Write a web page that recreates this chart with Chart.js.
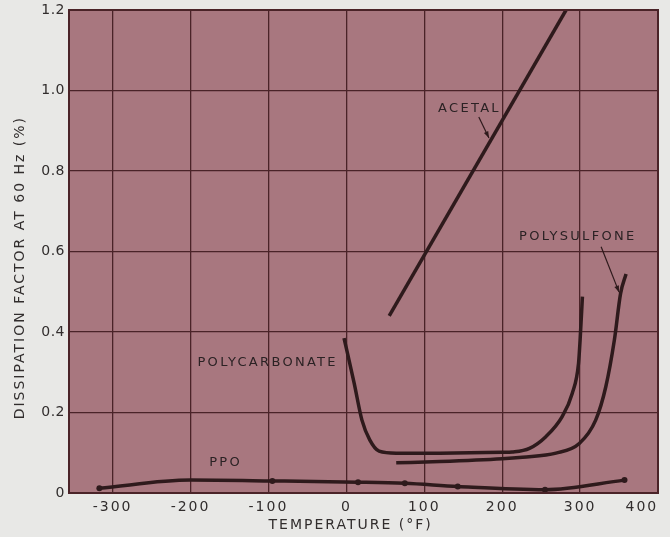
<!DOCTYPE html>
<html>
<head>
<meta charset="utf-8">
<script src="https://cdn.jsdelivr.net/npm/chart.js@4/dist/chart.umd.min.js"></script>
<style>
  html, body { margin: 0; padding: 0; background: #e8e8e6; }
  canvas { display: block; }
</style>
</head>
<body>
<canvas id="dissipationChart" width="670" height="537"></canvas>
<script>
// tick values
const xTicks = [-300, -200, -100, 0, 100, 200, 300, 400];
const yTicks = [0, 0.2, 0.4, 0.6, 0.8, 1.0, 1.2];

// curves (temperature in F, dissipation factor in %)
const acetalX = [55, 282];
const acetalY = [0.44, 1.2];

const polycarbonateX = [-3, 10, 20, 30, 42, 64, 120, 200, 213, 235, 256, 277, 290, 298, 300, 303];
const polycarbonateY = [0.385, 0.273, 0.181, 0.132, 0.104, 0.099, 0.099, 0.101, 0.102, 0.111, 0.140, 0.190, 0.248, 0.322, 0.380, 0.488];

const polysulfoneX = [64, 120, 200, 226, 269, 299, 320, 333, 344, 352, 359];
const polysulfoneY = [0.075, 0.078, 0.085, 0.089, 0.099, 0.123, 0.181, 0.264, 0.380, 0.496, 0.544];

const ppoX = [-317, -200, -95, 15, 75, 143, 255, 357];
const ppoY = [0.012, 0.032, 0.030, 0.027, 0.024, 0.016, 0.008, 0.032];
const ppoMarked = [true, false, true, true, true, true, true, true];

const plotColor = '#a8777f';
const gridColor = '#4a2328';
const curveColor = '#2e1a1c';
const textColor = '#312d2d';

function toPoints(xs, ys){
  return xs.map((x, i) => ({x: x, y: ys[i]}));
}

function curve(label, xs, ys){
  return {
    label: label,
    data: toPoints(xs, ys),
    borderColor: curveColor,
    borderWidth: 3.5,
    pointRadius: 0,
    fill: false,
    cubicInterpolationMode: 'monotone'
  };
}

// curve names and arrows, placed in data units
const curveLabels = [
  {text: 'ACETAL', x: 158, y: 0.956},
  {text: 'POLYCARBONATE', x: -101, y: 0.323},
  {text: 'PPO', x: -155, y: 0.075},
  {text: 'POLYSULFONE', x: 297, y: 0.636}
];
const arrows = [
  {from: [170, 0.934], to: [183, 0.882]},
  {from: [327, 0.612], to: [350, 0.499]}
];

// canvas resets its state on resize, so the spacing is set again before layout and draw
const letterSpacing = {
  id: 'letterSpacing',
  beforeUpdate(chart){ chart.ctx.letterSpacing = '2px'; },
  beforeDraw(chart){ chart.ctx.letterSpacing = '2px'; }
};

const plotBackground = {
  id: 'plotBackground',
  beforeDraw(chart){
    const {ctx, chartArea: a} = chart;
    ctx.save();
    ctx.fillStyle = plotColor;
    ctx.fillRect(a.left, a.top, a.right - a.left, a.bottom - a.top);
    ctx.restore();
  },
  afterDraw(chart){
    const {ctx, chartArea: a} = chart;
    ctx.save();
    ctx.strokeStyle = gridColor;
    ctx.lineWidth = 2;
    ctx.strokeRect(a.left, a.top, a.right - a.left, a.bottom - a.top);
    ctx.restore();
  }
};

const labelPlugin = {
  id: 'curveNames',
  afterDatasetsDraw(chart){
    const {ctx, scales: {x, y}} = chart;
    ctx.save();
    ctx.font = '13px "DejaVu Sans"';
    ctx.letterSpacing = '2.3px';
    ctx.fillStyle = '#2b2224';
    ctx.textAlign = 'center';
    ctx.textBaseline = 'middle';
    curveLabels.forEach(l => {
      ctx.fillText(l.text, x.getPixelForValue(l.x), y.getPixelForValue(l.y));
    });

    ctx.strokeStyle = curveColor;
    ctx.fillStyle = curveColor;
    ctx.lineWidth = 1.2;
    arrows.forEach(a => {
      const x1 = x.getPixelForValue(a.from[0]), y1 = y.getPixelForValue(a.from[1]);
      const x2 = x.getPixelForValue(a.to[0]), y2 = y.getPixelForValue(a.to[1]);
      const ang = Math.atan2(y2 - y1, x2 - x1);
      ctx.beginPath();
      ctx.moveTo(x1, y1);
      ctx.lineTo(x2, y2);
      ctx.stroke();
      ctx.beginPath();
      ctx.moveTo(x2, y2);
      ctx.lineTo(x2 - 7 * Math.cos(ang - 0.35), y2 - 7 * Math.sin(ang - 0.35));
      ctx.lineTo(x2 - 7 * Math.cos(ang + 0.35), y2 - 7 * Math.sin(ang + 0.35));
      ctx.closePath();
      ctx.fill();
    });
    ctx.restore();
  }
};

function showDissipationChart(){
  const ppo = curve('PPO', ppoX, ppoY);
  ppo.pointRadius = ppoMarked.map(m => m ? 3 : 0);
  ppo.pointBackgroundColor = curveColor;
  ppo.pointBorderWidth = 0;

  const data = {
    datasets: [
      curve('Acetal', acetalX, acetalY),
      curve('Polycarbonate', polycarbonateX, polycarbonateY),
      curve('Polysulfone', polysulfoneX, polysulfoneY),
      ppo
    ]
  };

  const tickFont = {family: '"DejaVu Sans"', size: 14};
  const titleFont = {family: '"DejaVu Sans"', size: 14};

  const options = {
    responsive: false,
    animation: false,
    layout: {
      padding: {top: 10, right: 12, left: 0, bottom: 0}
    },
    plugins: {
      legend: {display: false},
      tooltip: {enabled: false}
    },
    scales: {
      x: {
        type: 'linear',
        min: -356,
        max: 400,
        afterBuildTicks: scale => { scale.ticks = xTicks.map(v => ({value: v})); },
        afterFit: scale => {
          scale.height = 44;
          scale.paddingLeft = 0;
          scale.paddingRight = 0;
        },
        grid: {color: gridColor, lineWidth: 1.3, drawTicks: false},
        border: {color: gridColor, width: 2},
        ticks: {
          color: textColor,
          font: tickFont,
          padding: 6,
          maxRotation: 0,
          // the last label sits left of its gridline in the original
          callback: v => v === 400 ? '400     ' : String(v)
        },
        title: {
          display: true,
          text: 'TEMPERATURE (°F)    ',
          color: textColor,
          font: titleFont,
          padding: {top: 0, bottom: 3}
        }
      },
      y: {
        min: 0,
        max: 1.2,
        afterBuildTicks: scale => { scale.ticks = yTicks.map(v => ({value: v})); },
        afterFit: scale => {
          scale.width = 69;
          scale.paddingTop = 0;
          scale.paddingBottom = 0;
          // y tick numbers are set tighter than the rest of the lettering
          const drawLabels = Object.getPrototypeOf(scale).drawLabels;
          scale.drawLabels = function(area){
            this.ctx.letterSpacing = '0.5px';
            drawLabels.call(this, area);
            this.ctx.letterSpacing = '2px';
          };
        },
        grid: {color: gridColor, lineWidth: 1.3, drawTicks: false},
        border: {color: gridColor, width: 2},
        ticks: {
          color: textColor,
          font: tickFont,
          padding: 4,
          callback: v => v === 0 ? '0' : v.toFixed(1)
        },
        title: {
          display: true,
          text: 'DISSIPATION FACTOR AT 60 Hz (%)     ',
          color: textColor,
          font: titleFont,
          padding: {top: 12, bottom: 0}
        }
      }
    }
  };

  const config = {
    type: 'line',
    data: data,
    options: options,
    plugins: [letterSpacing, plotBackground, labelPlugin]
  };

  const canvas = document.getElementById('dissipationChart');
  const dissipationChart = new Chart(canvas, config);
}

showDissipationChart();
</script>
</body>
</html>
